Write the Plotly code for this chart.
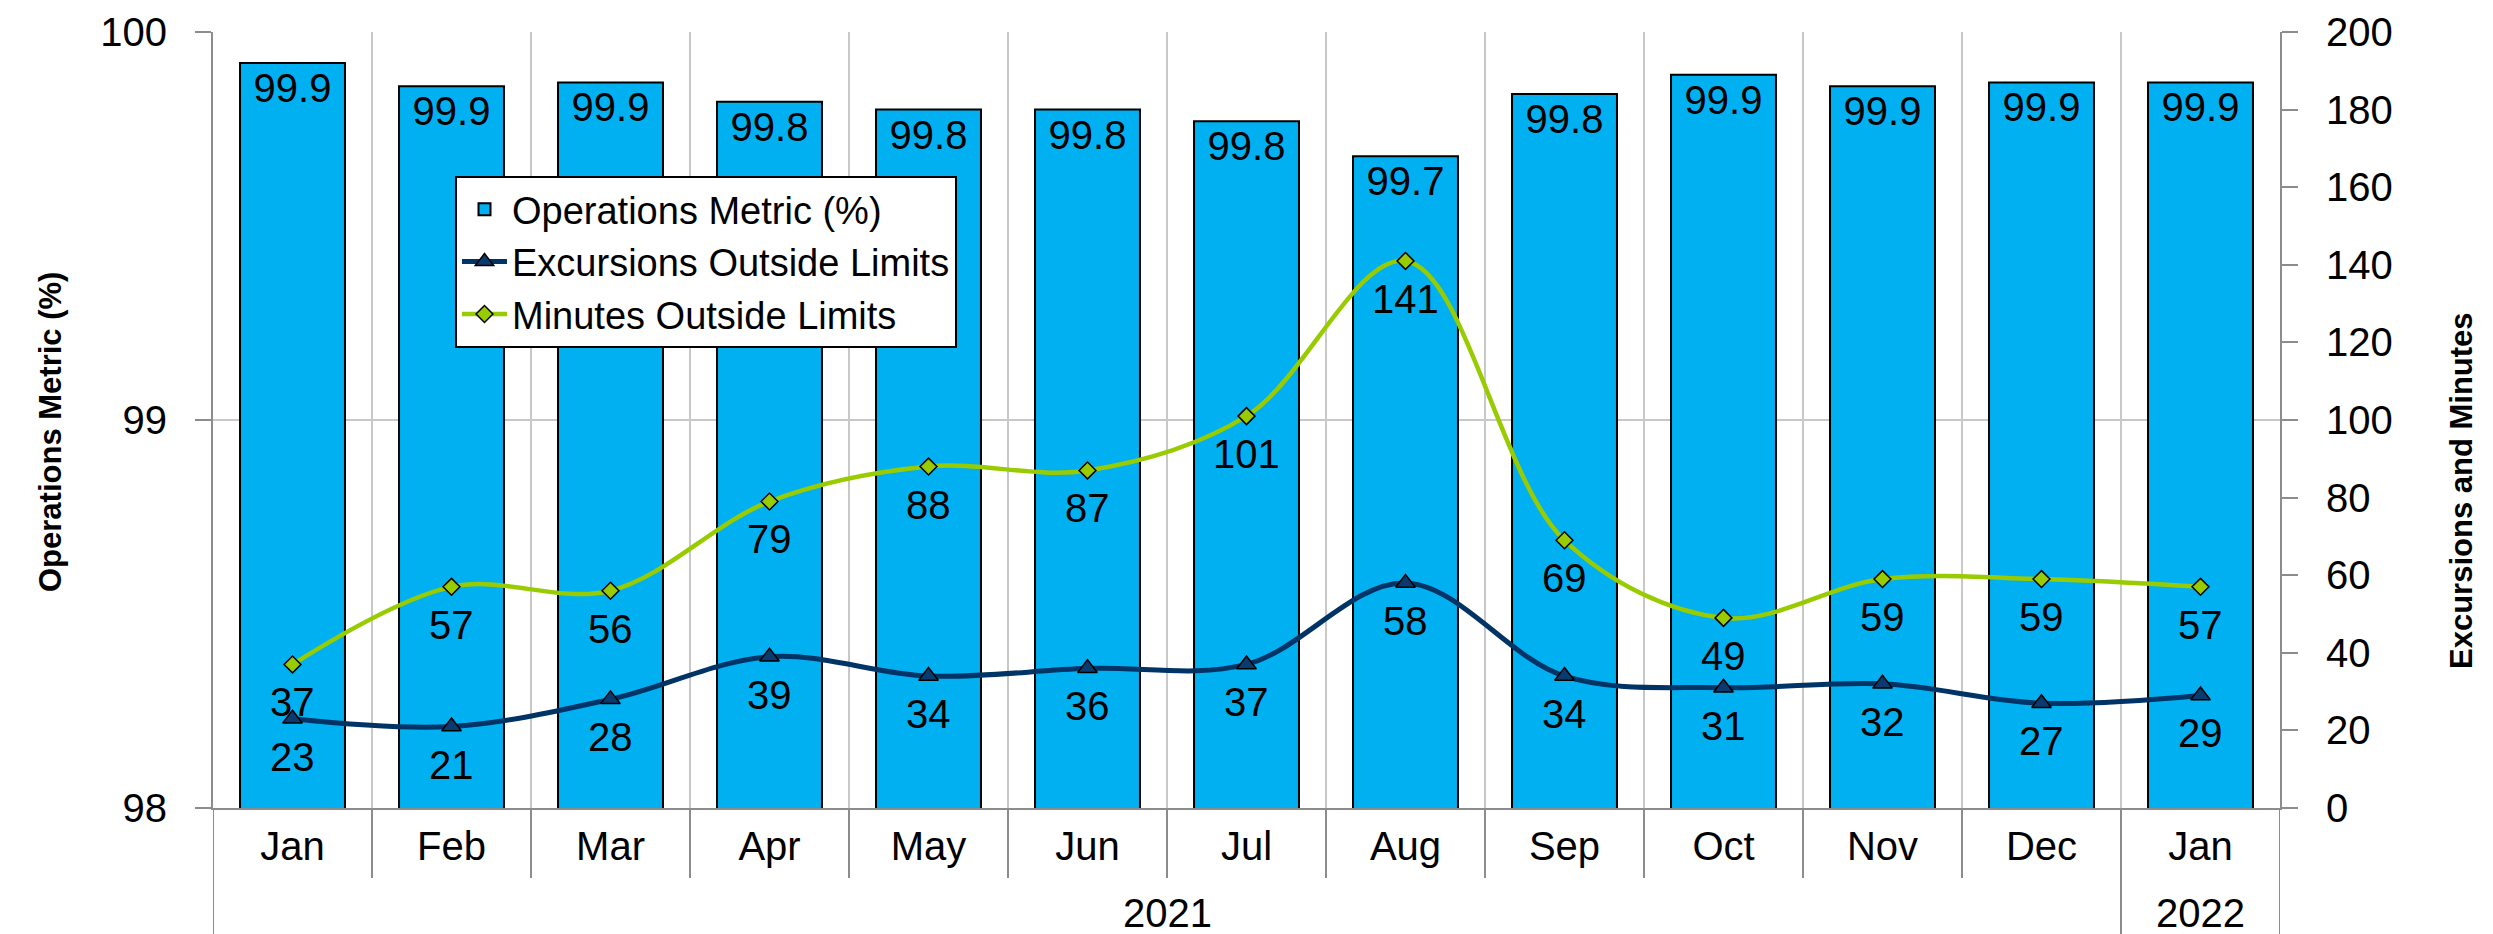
import plotly.graph_objects as go

months = ["Jan", "Feb", "Mar", "Apr", "May", "Jun", "Jul", "Aug", "Sep", "Oct", "Nov", "Dec", "Jan"]
years = ["2021"] * 12 + ["2022"]
ops_metric = [99.92, 99.86, 99.87, 99.82, 99.80, 99.80, 99.77, 99.68, 99.84, 99.89, 99.86, 99.87, 99.87]
ops_labels = ["99.9", "99.9", "99.9", "99.8", "99.8", "99.8", "99.8", "99.7", "99.8", "99.9", "99.9", "99.9", "99.9"]
excursions = [23, 21, 28, 39, 34, 36, 37, 58, 34, 31, 32, 27, 29]
minutes = [37, 57, 56, 79, 88, 87, 101, 141, 69, 49, 59, 59, 57]

FONT = "Liberation Sans, Arial, sans-serif"
FS = 40
W, H = 2493, 934
L, R, T, B = 205, 221, 24, 134
PW, PH = W - L - R, H - T - B
GRID = "#C8C8C8"
AXC = "#8C8C8C"
LABEL_SHIFT = -38

xpos = list(range(len(months)))

fig = go.Figure()
fig.add_trace(go.Bar(
    x=xpos, y=ops_metric, name="Operations Metric (%)",
    marker=dict(color="#00B0F0", line=dict(color="#000000", width=2)),
    width=0.66,
    text=ops_labels, textposition="inside", insidetextanchor="end",
    textfont=dict(size=FS, color="#000000", family=FONT),
    constraintext="none",
))
fig.add_trace(go.Scatter(
    x=xpos, y=excursions, name="Excursions Outside Limits", yaxis="y2",
    mode="lines+markers", line=dict(color="#003366", width=5, shape="spline", smoothing=1),
    marker=dict(symbol="triangle-up", size=17, color="#0B3A6E", line=dict(color="#000000", width=1.5)),
))
fig.add_trace(go.Scatter(
    x=xpos, y=minutes, name="Minutes Outside Limits", yaxis="y2",
    mode="lines+markers", line=dict(color="#99CC00", width=4.5, shape="spline", smoothing=1),
    marker=dict(symbol="diamond", size=13, color="#99CC00", line=dict(color="#000000", width=1.5)),
))

annotations = []
# data labels below the line points
for series in (excursions, minutes):
    for i, v in enumerate(series):
        annotations.append(dict(x=xpos[i], y=v, xref="x", yref="y2", text=str(v), showarrow=False,
                                yshift=LABEL_SHIFT, font=dict(size=FS, family=FONT, color="#000000")))

# year labels centred under their month groups
groups = {}
for i, yv in enumerate(years):
    groups.setdefault(yv, []).append(xpos[i])
for yv, idx in groups.items():
    annotations.append(dict(x=(idx[0] + idx[-1]) / 2, y=-(905 - (H - B)) / PH, xref="x", yref="paper",
                            text=yv, showarrow=False, yanchor="middle",
                            font=dict(size=FS, family=FONT, color="#000000")))

# axis titles
annotations.append(dict(text="<b>Operations Metric (%)</b>", textangle=-90, xref="paper", yref="paper",
                        x=(43 - L) / PW, y=(H - B - 424) / PH, xanchor="center", yanchor="middle",
                        showarrow=False, font=dict(size=31, family=FONT, color="#000000")))
annotations.append(dict(text="<b>Excursions and Minutes</b>", textangle=-90, xref="paper", yref="paper",
                        x=(2453 - L) / PW, y=(H - B - 483) / PH, xanchor="center", yanchor="middle",
                        showarrow=False, font=dict(size=31, family=FONT, color="#000000")))

# long dividers between year groups (and at both ends)
shapes = []
bounds = [xpos[0] - 0.5] + [xpos[i] - 0.5 for i in range(1, len(years)) if years[i] != years[i - 1]] + [xpos[-1] + 0.5]
for b in bounds:
    shapes.append(dict(type="line", xref="x", yref="paper", x0=b, x1=b, y0=0, y1=-B / PH,
                       line=dict(color=AXC, width=2)))

fig.update_layout(
    width=W, height=H,
    margin=dict(l=L, r=R, t=T, b=B, pad=0, autoexpand=False),
    paper_bgcolor="white", plot_bgcolor="white",
    font=dict(family=FONT, size=FS, color="#000000"),
    showlegend=True,
    legend=dict(
        x=(447 - L) / PW, y=(H - B - 168) / PH,
        xanchor="left", yanchor="top",
        bgcolor="white", bordercolor="#000000", borderwidth=2,
        font=dict(size=38, family=FONT, color="#000000"),
        itemwidth=45, tracegroupgap=0,
    ),
    xaxis=dict(
        range=[-0.5, len(months) - 0.5],
        tickmode="array", tickvals=xpos, ticktext=months,
        ticks="", showgrid=False, automargin=False,
        ticklabelstandoff=2,
        minor=dict(tickmode="array", tickvals=[p + 0.5 for p in xpos[:-1]],
                   ticks="outside", ticklen=68, tickcolor=AXC, tickwidth=2,
                   showgrid=True, gridcolor=GRID, gridwidth=2),
        showline=True, linecolor=AXC, linewidth=2,
        tickfont=dict(size=FS, family=FONT, color="#000000"),
        zeroline=False,
    ),
    yaxis=dict(
        range=[98, 100], dtick=1, tick0=98, automargin=False,
        showgrid=True, gridcolor=GRID, gridwidth=2,
        showline=True, linecolor=AXC, linewidth=2,
        ticks="outside", ticklen=16, tickcolor=AXC, tickwidth=2,
        ticklabelstandoff=20,
        tickfont=dict(size=FS, family=FONT, color="#000000"),
        zeroline=False,
    ),
    yaxis2=dict(
        range=[0, 200], dtick=20, tick0=0, automargin=False,
        overlaying="y", side="right", showgrid=False,
        showline=True, linecolor=AXC, linewidth=2,
        ticks="outside", ticklen=16, tickcolor=AXC, tickwidth=2,
        ticklabelstandoff=20,
        tickfont=dict(size=FS, family=FONT, color="#000000"),
        zeroline=False,
    ),
    shapes=shapes,
    annotations=annotations,
)

fig.write_html("out.html")
